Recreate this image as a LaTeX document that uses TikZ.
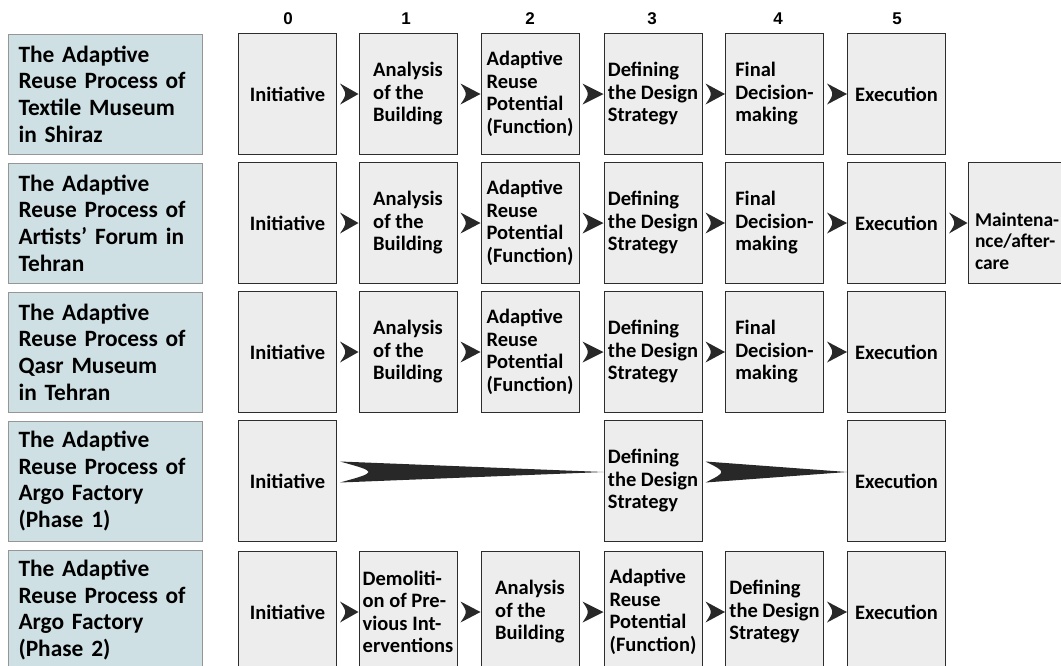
\documentclass[tikz,border=0pt]{standalone}
\usepackage{fontspec}
\setmainfont{Carlito}
\newfontfamily\numfont{Liberation Sans}
\definecolor{labelfill}{RGB}{207,224,228}
\definecolor{labeldraw}{RGB}{150,150,150}
\definecolor{stepfill}{RGB}{237,237,237}
\definecolor{stepdraw}{RGB}{45,45,45}
\definecolor{chevcol}{RGB}{40,40,40}

% 凹尾箭头: #1 竖直偏移, #2 起点节点, #3 终点节点, #4 凹口控制量
\newcommand{\chev}[4][0]{%
  \fill[chevcol] ([xshift=3pt,yshift=#1pt+10.5pt]#2.east)
    .. controls ([xshift=3pt+#4pt,yshift=#1pt]#2.east) ..
    ([xshift=3pt,yshift=#1pt-10.5pt]#2.east) -- ([yshift=#1pt]#3.west) -- cycle;}

\begin{document}
\begin{tikzpicture}[x=1pt, y=-1pt,
    lbl/.style={draw=labeldraw, fill=labelfill, line width=1pt,
      minimum width=194pt, minimum height=120pt, text width=174pt,
      inner xsep=10pt, align=left, font=\bfseries\fontsize{23.4}{26.7}\selectfont},
    stepbox/.style={draw=stepdraw, fill=stepfill, line width=1pt,
      minimum width=98pt, minimum height=121pt, inner sep=3pt,
      align=left, font=\bfseries\fontsize{20.5}{22.5}\selectfont},
    num/.style={font=\numfont\bfseries\fontsize{17}{18}\selectfont}]
    \useasboundingbox (0,0) rectangle (1061,665);

    % 列编号
    \node[num] (n0) at (288,19) {0};
    \node[num] (n1) at (406,19) {1};
    \node[num] (n2) at (530,19) {2};
    \node[num] (n3) at (652,19) {3};
    \node[num] (n4) at (778,19) {4};
    \node[num] (n5) at (897,19) {5};

    % 第一行
    \node[lbl] (L1) at (105.5,94) {The Adaptive\\Reuse Process of\\Textile Museum\\in Shiraz};
    \node[stepbox] (a1) at (287.5,94) {Initiative};
    \node[stepbox] (b1) at (408,94) {Analysis\\of the\\Building};
    \node[stepbox] (c1) at (530,94) {Adaptive\\Reuse\\Potential\\(Function)};
    \node[stepbox] (d1) at (653,94) {Defining\\the Design\\Strategy};
    \node[stepbox] (e1) at (774.5,94) {Final\\Decision-\\making};
    \node[stepbox] (f1) at (896.5,94) {Execution};
    \chev{a1}{b1}{7}
    \chev{b1}{c1}{7}
    \chev{c1}{d1}{7}
    \chev{d1}{e1}{7}
    \chev{e1}{f1}{7}

    % 第二行
    \node[lbl] (L2) at (105.5,223) {The Adaptive\\Reuse Process of\\Artists’ Forum in\\Tehran};
    \node[stepbox] (a2) at (287.5,223) {Initiative};
    \node[stepbox] (b2) at (408,223) {Analysis\\of the\\Building};
    \node[stepbox] (c2) at (530,223) {Adaptive\\Reuse\\Potential\\(Function)};
    \node[stepbox] (d2) at (653,223) {Defining\\the Design\\Strategy};
    \node[stepbox] (e2) at (774.5,223) {Final\\Decision-\\making};
    \node[stepbox] (f2) at (896.5,223) {Execution};
    \node[stepbox,anchor=west,text width=100pt,inner xsep=7pt,
      font=\bfseries\fontsize{19.5}{21.5}\selectfont] (g2) at (967.5,223)
      {\mbox{}\\[28pt]Maintena-\\nce/after-\\care};
    \chev{a2}{b2}{7}
    \chev{b2}{c2}{7}
    \chev{c2}{d2}{7}
    \chev{d2}{e2}{7}
    \chev{e2}{f2}{7}
    \chev{f2}{g2}{7}

    % 第三行
    \node[lbl] (L3) at (105.5,352) {The Adaptive\\Reuse Process of\\Qasr Museum\\in Tehran};
    \node[stepbox] (a3) at (287.5,352) {Initiative};
    \node[stepbox] (b3) at (408,352) {Analysis\\of the\\Building};
    \node[stepbox] (c3) at (530,352) {Adaptive\\Reuse\\Potential\\(Function)};
    \node[stepbox] (d3) at (653,352) {Defining\\the Design\\Strategy};
    \node[stepbox] (e3) at (774.5,352) {Final\\Decision-\\making};
    \node[stepbox] (f3) at (896.5,352) {Execution};
    \chev{a3}{b3}{7}
    \chev{b3}{c3}{7}
    \chev{c3}{d3}{7}
    \chev{d3}{e3}{7}
    \chev{e3}{f3}{7}

    % 第四行 (长箭头)
    \node[lbl] (L4) at (105.5,481) {The Adaptive\\Reuse Process of\\Argo Factory\\(Phase 1)};
    \node[stepbox] (a4) at (287.5,481) {Initiative};
    \node[stepbox] (d4) at (653,481) {Defining\\the Design\\Strategy};
    \node[stepbox] (f4) at (896.5,481) {Execution};
    \chev[9]{a4}{d4}{38}
    \chev[9]{d4}{f4}{21}

    % 第五行
    \node[lbl] (L5) at (105.5,610) {The Adaptive\\Reuse Process of\\Argo Factory\\(Phase 2)};
    \node[stepbox] (a5) at (287.5,612) {Initiative};
    \node[stepbox] (b5) at (408,612) {Demoliti-\\on of Pre-\\vious Int-\\erventions};
    \node[stepbox] (c5) at (530,612) {Analysis\\of the\\Building};
    \node[stepbox] (d5) at (653,612) {Adaptive\\Reuse\\Potential\\(Function)};
    \node[stepbox] (e5) at (774.5,612) {Defining\\the Design\\Strategy};
    \node[stepbox] (f5) at (896.5,612) {Execution};
    \chev{a5}{b5}{7}
    \chev{b5}{c5}{7}
    \chev{c5}{d5}{7}
    \chev{d5}{e5}{7}
    \chev{e5}{f5}{7}
\end{tikzpicture}
\end{document}
